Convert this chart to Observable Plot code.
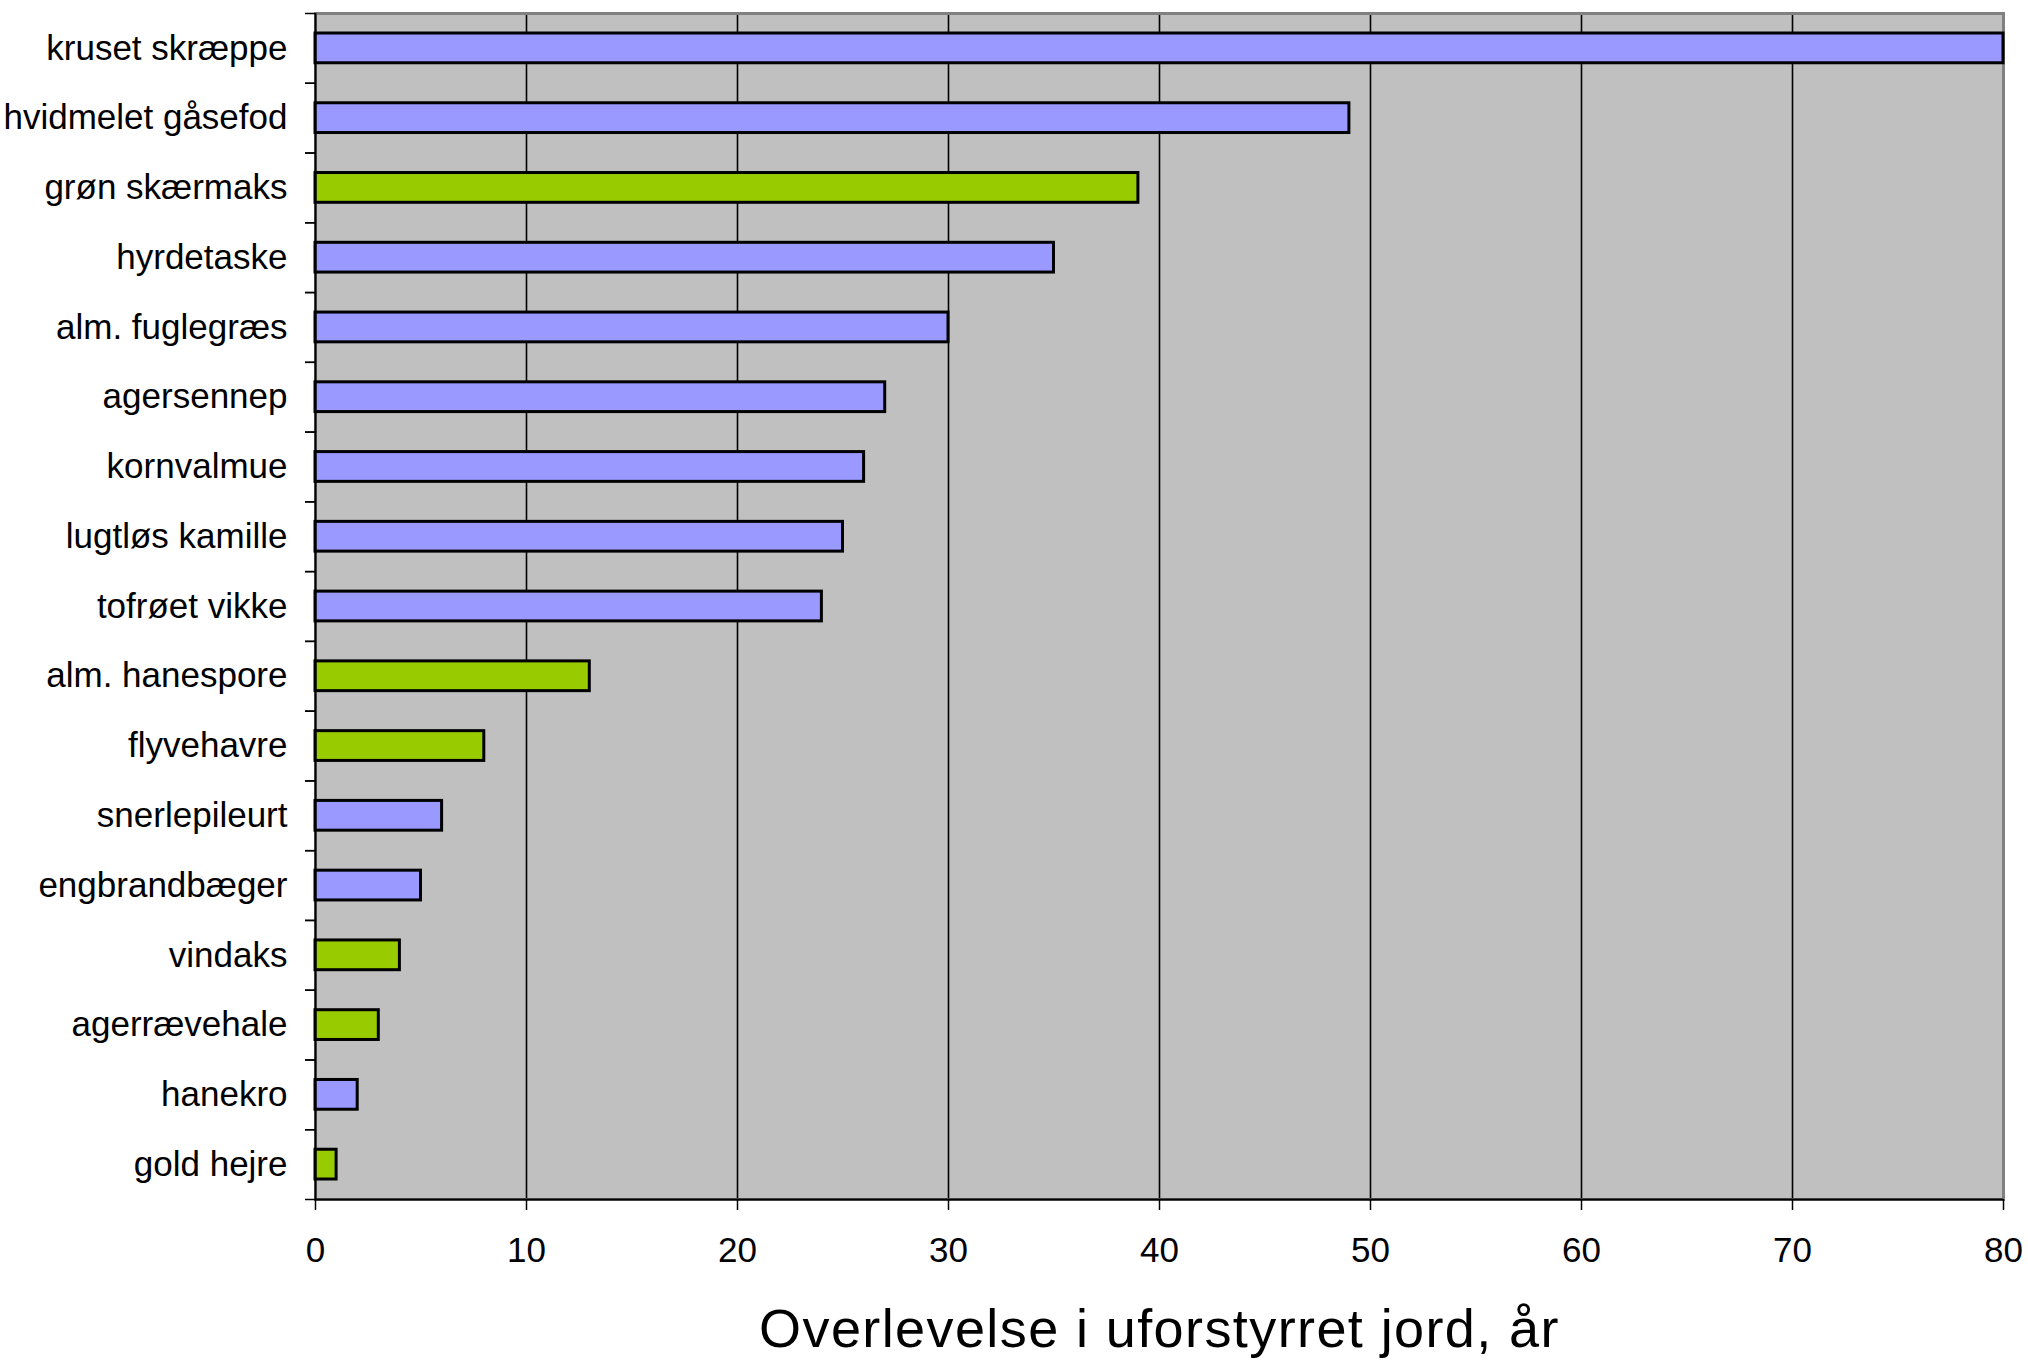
<!DOCTYPE html>
<html>
<head>
<meta charset="utf-8">
<script src="https://cdn.jsdelivr.net/npm/d3@7"></script>
<script src="https://cdn.jsdelivr.net/npm/@observablehq/plot@0.6"></script>
<style>
  html, body { margin: 0; padding: 0; background: #ffffff; }
  #chart svg .title text, #chart svg text.title { letter-spacing: 1.4px; }
</style>
</head>
<body>
<div id="chart"></div>
<script>
const species = [
  "kruset skræppe", "hvidmelet gåsefod", "grøn skærmaks", "hyrdetaske",
  "alm. fuglegræs", "agersennep", "kornvalmue", "lugtløs kamille",
  "tofrøet vikke", "alm. hanespore", "flyvehavre", "snerlepileurt",
  "engbrandbæger", "vindaks", "agerrævehale", "hanekro", "gold hejre"
];
const years = [80, 49, 39, 35, 30, 27, 26, 25, 24, 13, 8, 6, 5, 4, 3, 2, 1];
const groups = [
  "tokimbladet", "tokimbladet", "enkimbladet", "tokimbladet",
  "tokimbladet", "tokimbladet", "tokimbladet", "tokimbladet",
  "tokimbladet", "enkimbladet", "enkimbladet", "tokimbladet",
  "tokimbladet", "enkimbladet", "enkimbladet", "tokimbladet", "enkimbladet"
];
const groupNames = ["tokimbladet", "enkimbladet"];
const groupColors = ["#9999ff", "#99cc00"];
const xTicks = [0, 10, 20, 30, 40, 50, 60, 70, 80];
const gridTicks = [10, 20, 30, 40, 50, 60, 70];
const xLabel = "Overlevelse i uforstyrret jord, år";

const data = species.map((s, i) => ({species: s, years: years[i], group: groups[i]}));

const W = 2028, H = 1361;
const mTop = 13, mLeft = 315, mRight = 25, mBottom = 162;
const step = (H - mTop - mBottom) / species.length;

const chart = Plot.plot({
  width: W,
  height: H,
  marginTop: mTop,
  marginLeft: mLeft,
  marginRight: mRight,
  marginBottom: mBottom,
  style: {fontFamily: "'Liberation Sans', Arial, sans-serif", fontSize: "35px", background: "#ffffff", color: "#000000"},
  x: {domain: [0, 80], label: null},
  y: {domain: species, padding: 0, round: false, label: null},
  color: {domain: groupNames, range: groupColors},
  marks: [
    Plot.frame({fill: "#c0c0c0", stroke: null}),
    Plot.ruleX(gridTicks, {stroke: "#000000", strokeWidth: 1.6}),
    Plot.frame({fill: null, stroke: "#808080", strokeWidth: 3}),
    Plot.barX(data, {
      x: "years", y: "species", fill: "group",
      stroke: "#000000", strokeWidth: 3,
      insetTop: 20, insetBottom: 20
    }),
    Plot.ruleX([0], {stroke: "#000000", strokeWidth: 2}),
    Plot.ruleY([species[species.length - 1]], {dy: step / 2, stroke: "#000000", strokeWidth: 2}),
    Plot.axisY({tickSize: 0, tickPadding: 28, fontSize: 35, label: null}),
    Plot.axisY({tickSize: 10, tickFormat: () => "", dy: -step / 2, label: null, strokeWidth: 1.5}),
    Plot.axisY({tickSize: 10, tickFormat: () => "", dy: step / 2, label: null, strokeWidth: 1.5}),
    Plot.axisX({ticks: xTicks, tickSize: 11, tickPadding: 27, fontSize: 35, label: null, strokeWidth: 1.5}),
    Plot.text([xLabel], {text: d => d, frameAnchor: "bottom", dy: 130, lineAnchor: "middle", fontSize: 54, className: "title"})
  ]
});
document.getElementById("chart").appendChild(chart);
</script>
</body>
</html>
